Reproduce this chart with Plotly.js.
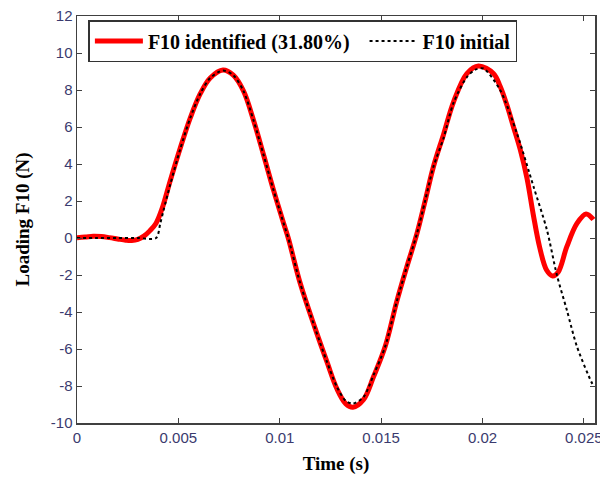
<!DOCTYPE html>
<html>
<head>
<meta charset="utf-8">
<script src="https://cdn.plot.ly/plotly-3.0.1.min.js"></script>
<style>html,body{margin:0;padding:0;background:#fff;}#chart{width:600px;height:478px;}</style>
</head>
<body>
<div id="chart"></div>
<script>
// Identified loading F10 (red)
const timeIdentified = [0, 0.0004, 0.0008, 0.0012, 0.0016, 0.002, 0.0024, 0.0027, 0.003, 0.0033, 0.0036, 0.0039, 0.0042, 0.0046, 0.00509, 0.00559, 0.00608, 0.00657, 0.0072, 0.00771, 0.00821, 0.00871, 0.0092, 0.00969, 0.01019, 0.01042, 0.01101, 0.01175, 0.01233, 0.01282, 0.01325, 0.01361, 0.01413, 0.01463, 0.0152, 0.01578, 0.01627, 0.01677, 0.01718, 0.01758, 0.01808, 0.01857, 0.01923, 0.0198, 0.02054, 0.02087, 0.0212, 0.02153, 0.02187, 0.0222, 0.0225, 0.02282, 0.02316, 0.02346, 0.02373, 0.02416, 0.02466, 0.02511, 0.02547];
const loadIdentified = [0.02, 0.05, 0.1, 0.08, 0.02, -0.05, -0.12, -0.14, -0.08, 0.1, 0.4, 0.8, 1.6, 3.1, 4.85, 6.5, 7.8, 8.65, 9.08, 8.8, 7.95, 6.35, 4.5, 2.6, 0.8, 0, -2.45, -4.9, -6.7, -8.15, -8.95, -9.15, -8.74, -7.49, -5.87, -3.4, -1.55, 0.25, 2.05, 3.85, 5.6, 7.35, 8.89, 9.3, 8.89, 8.2, 7.2, 6.0, 4.75, 3.2, 1.3, -0.5, -1.73, -2.05, -1.85, -0.47, 0.79, 1.3, 1.0];

// Initial loading F10 (black dotted)
const timeInitial = [0, 0.001, 0.002, 0.003, 0.0039, 0.00411, 0.00427, 0.0046, 0.00509, 0.00559, 0.00608, 0.00657, 0.0072, 0.00771, 0.00821, 0.00871, 0.0092, 0.00969, 0.01019, 0.01042, 0.01101, 0.01175, 0.01233, 0.01282, 0.01325, 0.01361, 0.01413, 0.01463, 0.0152, 0.01578, 0.01627, 0.01677, 0.01718, 0.01758, 0.01808, 0.01857, 0.01923, 0.01965, 0.02005, 0.02087, 0.0217, 0.02252, 0.02318, 0.02367, 0.02416, 0.02466, 0.0254, 0.0255];
const loadInitial = [0, 0, 0, 0, 0, 0.8, 1.5, 2.9, 4.8, 6.5, 7.8, 8.65, 9.05, 8.8, 7.95, 6.35, 4.5, 2.6, 0.8, 0, -2.45, -4.9, -6.7, -8.05, -8.8, -8.95, -8.6, -7.4, -5.87, -3.4, -1.55, 0.25, 2.05, 3.85, 5.4, 7.3, 8.7, 9.1, 9.16, 8.0, 5.65, 2.77, 0.43, -2.0, -3.89, -5.87, -7.84, -8.0];

const seriesNames = ['F10 identified (31.80%)\u00a0\u00a0', 'F10 initial'];

// Tick values and labels
const xTickVals = [0, 0.005, 0.01, 0.015, 0.02, 0.025];
const xTickText = ['0', '0.005', '0.01', '0.015', '0.02', '0.025'];
const yTickVals = [-10, -8, -6, -4, -2, 0, 2, 4, 6, 8, 10, 12];
const yTickText = ['-10', '-8', '-6', '-4', '-2', '0', '2', '4', '6', '8', '10', '12'];

const traces = [
  {x: timeIdentified, y: loadIdentified, name: seriesNames[0], type: 'scatter', mode: 'lines',
   line: {color: '#ff0000', width: 5, shape: 'spline', smoothing: 1}},
  {x: timeInitial, y: loadInitial, name: seriesNames[1], type: 'scatter', mode: 'lines',
   line: {color: '#000000', width: 2, dash: 'dot', shape: 'spline', smoothing: 0.8}}
];

const tickFont = {family: 'Liberation Sans, Arial, sans-serif', size: 15, color: '#3a3a6e'};
const titleFont = {family: 'Liberation Serif, Times New Roman, serif', size: 19, color: '#000000', weight: 'bold'};

const layout = {
  width: 600, height: 478,
  margin: {l: 77, r: 5, t: 16, b: 55},
  paper_bgcolor: '#ffffff', plot_bgcolor: '#ffffff',
  showlegend: true,
  legend: {
    orientation: 'h', x: 0.022, y: 0.99, xanchor: 'left', yanchor: 'top',
    bordercolor: '#333333', borderwidth: 1.5, bgcolor: '#ffffff',
    font: {family: 'Liberation Serif, Times New Roman, serif', size: 20, color: '#000', weight: 'bold'},
    itemwidth: 48, tracegroupgap: 0
  },
  xaxis: {
    range: [0, 0.02555], tickmode: 'array', tickvals: xTickVals, ticktext: xTickText,
    showgrid: false, zeroline: false,
    showline: true, linecolor: '#404040', linewidth: 1.5, mirror: 'ticks',
    ticks: 'inside', ticklen: 5, tickcolor: '#404040', tickwidth: 1,
    tickfont: tickFont, ticklabeloverflow: 'allow',
    title: {text: 'Time (s)', font: titleFont, standoff: 12}
  },
  yaxis: {
    range: [-10, 12], tickmode: 'array', tickvals: yTickVals, ticktext: yTickText,
    showgrid: false, zeroline: false,
    showline: true, linecolor: '#404040', linewidth: 1.5, mirror: 'ticks',
    ticks: 'inside', ticklen: 5, tickcolor: '#404040', tickwidth: 1,
    tickfont: tickFont,
    title: {text: 'Loading F10 (N)', font: titleFont, standoff: 16}
  }
};

Plotly.newPlot('chart', traces, layout, {displayModeBar: false, staticPlot: true});
</script>
</body>
</html>
